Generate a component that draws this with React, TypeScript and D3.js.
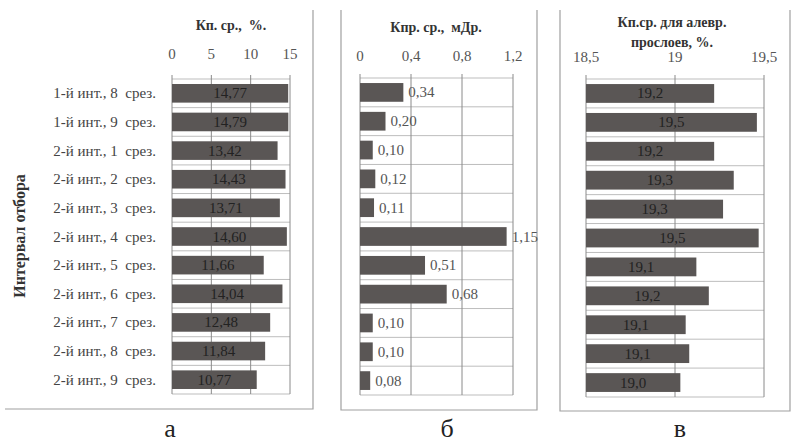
import React from 'react';
import * as d3 from 'd3';

const categories = [
  '1-й инт., 8  срез.',
  '1-й инт., 9  срез.',
  '2-й инт., 1  срез.',
  '2-й инт., 2  срез.',
  '2-й инт., 3  срез.',
  '2-й инт., 4  срез.',
  '2-й инт., 5  срез.',
  '2-й инт., 6  срез.',
  '2-й инт., 7  срез.',
  '2-й инт., 8  срез.',
  '2-й инт., 9  срез.',
];

const porosity = [14.77, 14.79, 13.42, 14.43, 13.71, 14.6, 11.66, 14.04, 12.48, 11.84, 10.77];
const permeability = [0.34, 0.2, 0.1, 0.12, 0.11, 1.15, 0.51, 0.68, 0.1, 0.1, 0.08];
const siltPorosity = [19.22, 19.46, 19.22, 19.33, 19.27, 19.47, 19.12, 19.19, 19.06, 19.08, 19.03];

const ticksA = [0, 5, 10, 15];
const ticksB = [0, 0.4, 0.8, 1.2];
const ticksC = [18.5, 19, 19.5];

const FONT = "'Liberation Serif', 'Times New Roman', Tinos, 'DejaVu Serif', serif";
const BAR = '#5a5655';

const fmt = (v: number, d: number) => v.toFixed(d).replace('.', ',');

type PanelProps = {
  values: number[];
  ticks: number[];
  domain: [number, number];
  x0: number;
  x1: number;
  top: number;
  bottom: number;
  titles: string[];
  titleX: number;
  titleY: number;
  tickY: number;
  decimals: number;
  tickDecimals: number[];
  inside: boolean;
};

const Panel = ({ values, ticks, domain, x0, x1, top, bottom, titles, titleX, titleY, tickY, decimals, tickDecimals, inside }: PanelProps) => {
  const x = d3.scaleLinear().domain(domain).range([x0, x1]);
  const y = d3.scaleBand().domain(categories).range([top, bottom]).paddingInner(0.35).paddingOuter(0.175);
  const step = y.step();

  return (
    <g>
      {titles.map((t, i) => (
        <text key={t} x={titleX} y={titleY + i * 20} textAnchor="middle" fontWeight="bold" fontSize={14} fill="#333" xmlSpace="preserve">
          {t}
        </text>
      ))}
      {ticks.map((t, i) => (
        <text key={t} x={x(t)} y={tickY} textAnchor="middle" fontSize={15} fill="#555">
          {fmt(t, tickDecimals[i])}
        </text>
      ))}
      {/* horizontal grid */}
      {d3.range(categories.length + 1).map((i) => (
        <line key={i} x1={x0} x2={x1} y1={top + i * step} y2={top + i * step} stroke="#bdbdbd" strokeWidth={1} />
      ))}
      {/* vertical grid */}
      {ticks.map((t) => (
        <line key={t} x1={x(t)} x2={x(t)} y1={top - 4} y2={bottom} stroke="#8a8a8a" strokeWidth={1} />
      ))}
      {values.map((v, i) => {
        const cat = categories[i];
        const by = y(cat) as number;
        const bw = x(v) - x0;
        return (
          <g key={cat}>
            <rect x={x0} y={by} width={bw} height={y.bandwidth()} fill={BAR} />
            <text
              x={inside ? x0 + bw / 2 : x(v) + 5}
              y={by + y.bandwidth() / 2 + 5}
              textAnchor={inside ? 'middle' : 'start'}
              fontSize={15}
              fill={inside ? '#222' : '#555'}
            >
              {fmt(v, decimals)}
            </text>
          </g>
        );
      })}
    </g>
  );
};

export default function App() {
  const yA = d3.scaleBand().domain(categories).range([79, 394]).paddingInner(0.35).paddingOuter(0.175);

  return (
    <svg width={792} height={442} fontFamily={FONT} style={{ position: 'absolute', left: 0, top: 0, background: '#fff' }}>
      {/* panel frames */}
      <g stroke="#a0a0a0" strokeWidth={1.2} fill="none">
        <polyline points="5,409 313,409 313,10" />
        <polyline points="341,10 341,410 537,410 537,10" />
        <polyline points="560,10 560,411 790,411 790,10" />
      </g>

      <text transform="translate(25,236) rotate(-90)" textAnchor="middle" fontWeight="bold" fontSize={16} fill="#333">
        Интервал отбора
      </text>

      {categories.map((c) => (
        <text key={c} x={156} y={(yA(c) as number) + yA.bandwidth() / 2 + 5} textAnchor="end" fontSize={15} fill="#444" xmlSpace="preserve">
          {c}
        </text>
      ))}

      <Panel
        values={porosity}
        ticks={ticksA}
        domain={[0, 15]}
        x0={172}
        x1={290}
        top={79}
        bottom={394}
        titles={['Кп. ср.,  %.']}
        titleX={231}
        titleY={30}
        tickY={59}
        decimals={2}
        tickDecimals={[0, 0, 0, 0]}
        inside={true}
      />
      <Panel
        values={permeability}
        ticks={ticksB}
        domain={[0, 1.2]}
        x0={360}
        x1={513}
        top={78}
        bottom={395}
        titles={['Кпр. ср.,  мДр.']}
        titleX={436}
        titleY={32}
        tickY={61}
        decimals={2}
        tickDecimals={[0, 1, 1, 1]}
        inside={false}
      />
      <Panel
        values={siltPorosity}
        ticks={ticksC}
        domain={[18.5, 19.5]}
        x0={586}
        x1={764}
        top={79}
        bottom={397}
        titles={['Кп.ср. для алевр.', 'прослоев, %.']}
        titleX={672}
        titleY={27}
        tickY={62}
        decimals={1}
        tickDecimals={[1, 0, 1]}
        inside={true}
      />

      {[
        ['а', 170],
        ['б', 447],
        ['в', 680],
      ].map(([t, cx]) => (
        <text key={t as string} x={cx as number} y={437} textAnchor="middle" fontSize={26} fill="#222">
          {t}
        </text>
      ))}
    </svg>
  );
}
